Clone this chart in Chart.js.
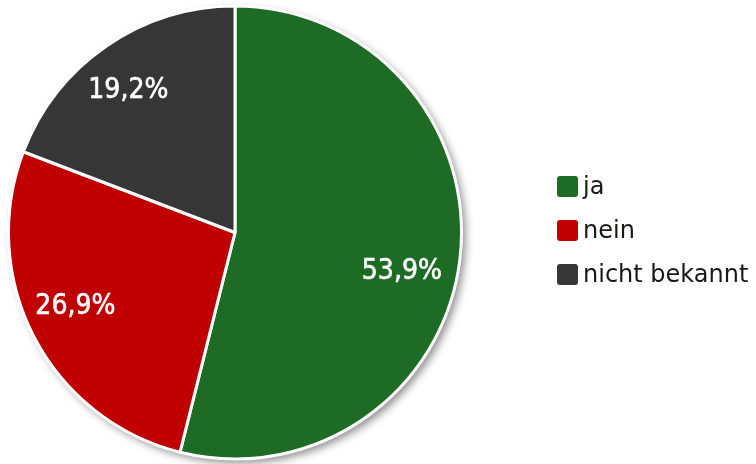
<!DOCTYPE html>
<html>
<head>
<meta charset="utf-8">
<script src="https://cdn.jsdelivr.net/npm/chart.js@4"></script>
<style>
  html, body { margin: 0; padding: 0; background: #fff; }
  #wrap { position: relative; width: 756px; height: 464px; }
  #legend { position: absolute; left: 557px; top: 164px; font-family: "DejaVu Sans", sans-serif; font-size: 24px; color: #161a16; }
  .item { display: flex; align-items: center; height: 44px; }
  .box { width: 21px; height: 21px; border-radius: 3px; margin-right: 5px; flex: none; }
</style>
</head>
<body>
<div id="wrap">
  <canvas id="pie" width="756" height="464"></canvas>
  <div id="legend"></div>
</div>
<script>
const labels = ["ja", "nein", "nicht bekannt"];
const values = [53.9, 26.9, 19.2];
const colors = ["#1d6b25", "#c00000", "#363636"];

// Legende
const legendEl = document.getElementById("legend");
labels.forEach((l, i) => {
  const div = document.createElement("div");
  div.className = "item";
  div.innerHTML = `<span class="box" style="background:${colors[i]}"></span><span>${l}</span>`;
  legendEl.appendChild(div);
});

// Schatten hinter dem Kreis
const shadowPlugin = {
  id: "pieShadow",
  beforeDatasetsDraw(chart) {
    const arc = chart.getDatasetMeta(0).data[0];
    if (!arc) return;
    const ctx = chart.ctx;
    ctx.save();
    ctx.shadowColor = "rgba(0,0,0,0.45)";
    ctx.shadowBlur = 8;
    ctx.shadowOffsetX = 4;
    ctx.shadowOffsetY = 4;
    ctx.fillStyle = "#fff";
    ctx.beginPath();
    ctx.arc(arc.x, arc.y, arc.outerRadius, 0, Math.PI * 2);
    ctx.fill();
    ctx.restore();
  }
};

// kleine Verschiebung der Beschriftung je Segment (px)
const labelShift = [[-4, 18], [-7, -5], [-9, 0]];

// Prozentwerte in den Segmenten
const valuePlugin = {
  id: "pieValues",
  afterDatasetsDraw(chart) {
    const ctx = chart.ctx;
    const meta = chart.getDatasetMeta(0);
    ctx.save();
    ctx.font = "28px 'DejaVu Sans Condensed', 'DejaVu Sans', sans-serif";
    ctx.fillStyle = "#fff";
    ctx.strokeStyle = "#fff";
    ctx.lineWidth = 0.6;
    ctx.textAlign = "center";
    ctx.textBaseline = "middle";
    meta.data.forEach((arc, i) => {
      const mid = (arc.startAngle + arc.endAngle) / 2;
      const r = arc.outerRadius * 0.76;
      const x = arc.x + Math.cos(mid) * r + labelShift[i][0];
      const y = arc.y + Math.sin(mid) * r + labelShift[i][1];
      const txt = values[i].toFixed(1).replace(".", ",") + "%";
      ctx.fillText(txt, x, y);
      ctx.strokeText(txt, x, y);
    });
    ctx.restore();
  }
};

new Chart(document.getElementById("pie"), {
  type: "pie",
  data: {
    labels,
    datasets: [{
      data: values,
      backgroundColor: colors,
      borderColor: "#fff",
      borderWidth: 3
    }]
  },
  options: {
    responsive: false,
    animation: false,
    layout: { padding: { left: 7, right: 293, top: 3, bottom: 2 } },
    plugins: {
      legend: { display: false },
      tooltip: { enabled: false }
    }
  },
  plugins: [shadowPlugin, valuePlugin]
});
</script>
</body>
</html>
